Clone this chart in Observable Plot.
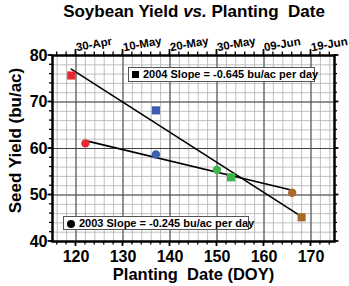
<!DOCTYPE html>
<html><head><meta charset="utf-8">
<script src="https://cdn.jsdelivr.net/npm/d3@7"></script>
<script src="https://cdn.jsdelivr.net/npm/@observablehq/plot@0.6"></script>
<style>
body{margin:0;background:#fff;}
#wrap{position:relative;width:349px;height:286px;font-family:"Liberation Sans",Arial,sans-serif;font-weight:bold;}
#title{position:absolute;left:0;width:388px;top:2px;text-align:center;font-size:17px;}
.leg{position:absolute;background:#fff;border:1.3px solid #555;font-size:11px;line-height:13px;white-space:nowrap;padding:0 3px;box-sizing:border-box;}
.leg .sq{display:inline-block;width:7px;height:7px;background:#000;margin-right:4px;vertical-align:0px;}
.leg .ci{display:inline-block;width:8px;height:8px;border-radius:50%;background:#000;margin-right:4px;vertical-align:-1px;}
</style></head>
<body>
<div id="wrap">
<div id="title">Soybean Yield <i>vs.</i> Planting&nbsp; Date</div>
<div class="leg" style="left:128px;top:67px;width:187px;height:15px;"><span class="sq"></span>2004 Slope = -0.645 bu/ac per day</div>
<div class="leg" style="left:63px;top:216px;width:186px;height:14px;"><span class="ci"></span>2003 Slope = -0.245 bu/ac per day</div>
</div>
<script>
const periods = ["late Apr", "mid May", "early Jun", "mid Jun"];
const doy2004 = [119, 137, 153, 168];
const yield2004 = [75.7, 68.2, 53.8, 45.2];
const doy2003 = [122, 137, 150, 166];
const yield2003 = [61.1, 58.7, 55.4, 50.5];
const xTicks = [120, 130, 140, 150, 160, 170];
const yTicks = [40, 50, 60, 70, 80];
const topTickLabels = ["30-Apr", "10-May", "20-May", "30-May", "09-Jun", "19-Jun"];

const data2004 = doy2004.map((x, i) => ({x, y: yield2004[i], p: periods[i]}));
const data2003 = doy2003.map((x, i) => ({x, y: yield2003[i], p: periods[i]}));
const xMinor = d3.range(116, 175, 2);
const yMinor = d3.range(40, 81, 2);
const colors = ["#e8282e", "#3d5eae", "#3cb64b", "#a8692a"];

const W = 349, H = 286, ML = 52, MR = 15, MT = 55, MB = 45;

const chart = Plot.plot({
  width: W, height: H,
  marginLeft: ML, marginRight: MR, marginTop: MT, marginBottom: MB,
  style: {fontFamily: '"Liberation Sans", Arial, sans-serif', fontWeight: "bold", background: "transparent"},
  x: {domain: [115, 175]},
  y: {domain: [40, 80]},
  color: {domain: periods, range: colors},
  marks: [
    Plot.gridX(xMinor, {stroke: "#b0b0b0", strokeOpacity: 1, strokeWidth: 0.8}),
    Plot.gridY(yMinor, {stroke: "#b0b0b0", strokeOpacity: 1, strokeWidth: 0.8}),
    Plot.gridX(xTicks, {stroke: "#444", strokeOpacity: 1, strokeWidth: 1}),
    Plot.gridY(yTicks, {stroke: "#444", strokeOpacity: 1, strokeWidth: 1}),
    Plot.axisX(xTicks, {anchor: "bottom", tickSize: 0, tickPadding: 9, fontSize: 16, label: null}),
    Plot.axisX(xTicks, {anchor: "top", tickSize: 0, tickPadding: 8, fontSize: 11.5, tickRotate: -10, label: null,
      tickFormat: (d) => topTickLabels[xTicks.indexOf(d)]}),
    Plot.axisY(yTicks, {anchor: "left", tickSize: 0, tickPadding: 5, fontSize: 16, label: null}),
    Plot.frame({stroke: "black", strokeWidth: 2.5}),
    Plot.linearRegressionY(data2004, {x: "x", y: "y", ci: 0, stroke: "black", strokeWidth: 1.6}),
    Plot.linearRegressionY(data2003, {x: "x", y: "y", ci: 0, stroke: "black", strokeWidth: 1.6}),
    Plot.dot(data2004, {x: "x", y: "y", fill: "p", symbol: "square", r: 4.6}),
    Plot.dot(data2003, {x: "x", y: "y", fill: "p", r: 4.2}),
    Plot.text(["Seed Yield (bu/ac)"], {frameAnchor: "left", textAnchor: "middle", rotate: -90, dx: -37, dy: -8, fontSize: 17, fontWeight: "bold"}),
    Plot.text(["Planting  Date (DOY)"], {frameAnchor: "bottom", dy: 38, fontSize: 16.5, fontWeight: "bold"})
  ]
});
document.getElementById("wrap").prepend(chart);
chart.style.position = "absolute";
chart.style.left = "0"; chart.style.top = "0";

// axis tick marks on all four sides, positioned through Plot's own scales
try {
  const sx = chart.scale("x"), sy = chart.scale("y");
  const top = MT, bottom = H - MB, left = ML, right = W - MR;
  const g = d3.select(chart).append("g").attr("stroke", "black");
  const addX = (vals, len, sw) => {
    for (const v of vals) {
      const x = sx.apply(v);
      g.append("line").attr("x1", x).attr("x2", x).attr("y1", bottom).attr("y2", bottom + len).attr("stroke-width", sw);
      g.append("line").attr("x1", x).attr("x2", x).attr("y1", top).attr("y2", top - len - (len > 4 ? 1 : 0)).attr("stroke-width", sw);
    }
  };
  const addY = (vals, len, sw) => {
    for (const v of vals) {
      const y = sy.apply(v);
      g.append("line").attr("y1", y).attr("y2", y).attr("x1", left).attr("x2", left - len).attr("stroke-width", sw);
      g.append("line").attr("y1", y).attr("y2", y).attr("x1", right).attr("x2", right + len).attr("stroke-width", sw);
    }
  };
  addX(xMinor, 3.5, 1.3);
  addX(xTicks, 5, 1.7);
  addY(yMinor, 3, 1.3);
  addY(yTicks, 4.5, 1.7);
} catch (e) {}
</script>
</body></html>
